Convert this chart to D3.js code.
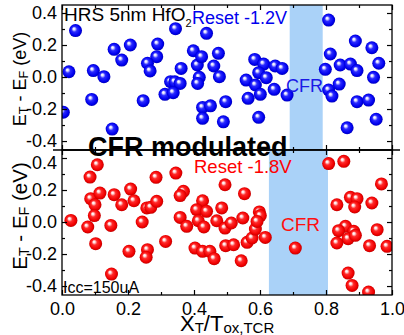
<!DOCTYPE html>
<html>
<head>
<meta charset="utf-8">
<script src="https://cdn.jsdelivr.net/npm/d3@7"></script>
<style>
  html, body { margin: 0; padding: 0; background: #fff; }
  svg { display: block; font-family: "Liberation Sans", Arial, sans-serif; }
</style>
</head>
<body>
<svg id="chart" width="404" height="335"></svg>
<script>
// values
const xTicks = [0, 0.2, 0.4, 0.6, 0.8, 1.0];
const xMinor = [0.1, 0.3, 0.5, 0.7, 0.9];
const yTicks = [-0.4, -0.2, 0, 0.2, 0.4];
const yMinor = [-0.3, -0.1, 0.1, 0.3];

const cfrBandTop = [0.69, 0.79];
const cfrBandBottom = [0.627, 0.806];

// Reset -1.2V (blue), [x, E_T - E_F]
const resetBlue = [
  [0.041, 0.29], [0.021, 0.033], [0.004, -0.22], [0.095, 0.04], [0.127, 0.002],
  [0.09, -0.14], [0.158, 0.173], [0.181, 0.106], [0.207, 0.2], [0.152, -0.325],
  [0.246, -0.148], [0.29, 0.206], [0.287, 0.127], [0.259, 0.086], [0.267, 0.038],
  [0.344, 0.302], [0.361, 0.054], [0.329, -0.029], [0.342, -0.03], [0.358, -0.04],
  [0.312, -0.108], [0.337, -0.098], [0.398, 0.164], [0.41, 0.075], [0.423, 0.127],
  [0.416, -0.002], [0.411, -0.04], [0.438, 0.273], [0.474, 0.148], [0.46, 0.069],
  [0.477, 0.002], [0.426, -0.19], [0.45, -0.18], [0.426, -0.258], [0.489, -0.28],
  [0.496, -0.154], [0.584, 0.11], [0.611, 0.081], [0.646, 0.069], [0.667, 0.054],
  [0.596, 0.027], [0.619, -0.004], [0.558, -0.019], [0.586, -0.05], [0.601, -0.108],
  [0.564, -0.133], [0.643, -0.077], [0.682, -0.113], [0.596, -0.252], [0.808, 0.356],
  [0.813, 0.144], [0.798, 0.048], [0.808, -0.081], [0.818, -0.119], [0.84, -0.044],
  [0.843, 0.075], [0.874, 0.081], [0.894, 0.04], [0.889, 0.225], [0.939, 0.183],
  [0.96, 0.086], [0.944, -0.002], [0.894, -0.154], [0.929, -0.144], [0.952, -0.264],
  [0.864, -0.317]
];

// Reset -1.8V (red), [x, E_T - E_F]
const resetRed = [
  [0.027, 0.01], [0.078, -0.031], [0.085, 0.281], [0.107, 0.358], [0.087, 0.146],
  [0.1, 0.108], [0.115, 0.181], [0.098, 0.04], [0.102, -0.135], [0.148, -0.021],
  [0.158, 0.171], [0.181, 0.108], [0.208, 0.206], [0.218, 0.133], [0.15, -0.325],
  [0.203, -0.183], [0.243, 0.0], [0.257, 0.088], [0.269, 0.092], [0.287, 0.129],
  [0.285, 0.279], [0.259, -0.173], [0.255, -0.22], [0.314, -0.121], [0.345, 0.306],
  [0.368, 0.192], [0.358, 0.165], [0.358, 0.029], [0.378, -0.027], [0.426, 0.133],
  [0.408, 0.077], [0.438, 0.067], [0.413, 0.008], [0.43, -0.031], [0.484, 0.088],
  [0.469, 0.008], [0.494, -0.038], [0.494, 0.233], [0.403, -0.163], [0.426, -0.183],
  [0.448, -0.183], [0.461, -0.229], [0.496, -0.148], [0.553, 0.177], [0.513, -0.006],
  [0.548, 0.025], [0.52, -0.142], [0.543, -0.242], [0.561, -0.127], [0.576, -0.1],
  [0.586, -0.044], [0.598, 0.063], [0.601, 0.04], [0.591, 0.004], [0.616, -0.096],
  [0.707, -0.163], [0.808, 0.365], [0.854, 0.379], [0.833, 0.108], [0.874, 0.154],
  [0.894, 0.146], [0.887, 0.094], [0.939, 0.119], [0.968, 0.238], [0.859, -0.027],
  [0.838, -0.054], [0.884, -0.058], [0.867, -0.104], [0.833, -0.131], [0.889, -0.083],
  [0.955, -0.048], [0.932, -0.148], [0.985, -0.152], [0.867, -0.319], [0.879, -0.396],
  [0.929, -0.438]
];

const svg = d3.select('#chart');
const left = 62, right = 392;
const yDomain = [-0.456, 0.45];

const x = d3.scaleLinear().domain([0, 1]).range([left, right]);
const yTop = d3.scaleLinear().domain(yDomain).range([150, 5]);
const yBot = d3.scaleLinear().domain(yDomain).range([295, 150]);

// sphere gradients
const defs = svg.append('defs');
function sphere(id, stops) {
  const g = defs.append('radialGradient')
    .attr('id', id)
    .attr('cx', 0.5).attr('cy', 0.5).attr('r', 0.55)
    .attr('fx', 0.36).attr('fy', 0.34);
  stops.forEach(s => g.append('stop').attr('offset', s[0]).attr('stop-color', s[1]));
}
sphere('ballBlue', [[0, '#ffffff'], [0.14, '#e6e6ff'], [0.38, '#2a2aff'], [0.75, '#0000ee'], [1, '#0000a8']]);
sphere('ballRed', [[0, '#ffffff'], [0.14, '#ffe6e6'], [0.38, '#ff2a2a'], [0.75, '#f00000'], [1, '#b00000']]);

function drawPanel(y, band, data, fill, clipId, showX) {
  const top = y.range()[1], bottom = y.range()[0];

  defs.append('clipPath').attr('id', clipId)
    .append('rect')
    .attr('x', left).attr('y', top)
    .attr('width', right - left).attr('height', bottom - top);

  svg.append('rect')
    .attr('x', x(band[0])).attr('y', top)
    .attr('width', x(band[1]) - x(band[0]))
    .attr('height', bottom - top)
    .attr('fill', '#aad2f8');

  svg.append('g')
    .attr('clip-path', `url(#${clipId})`)
    .selectAll('circle')
    .data(data)
    .enter()
    .append('circle')
    .attr('cx', d => x(d[0]))
    .attr('cy', d => y(d[1]))
    .attr('r', 6.5)
    .attr('fill', fill);

  // ticks on all four sides, pointing inward
  const sides = [
    [d3.axisLeft(y), `translate(${left},0)`, yTicks, yMinor],
    [d3.axisRight(y), `translate(${right},0)`, yTicks, yMinor],
    [d3.axisTop(x), `translate(0,${top})`, xTicks, xMinor],
    [d3.axisBottom(x), `translate(0,${bottom})`, xTicks, xMinor]
  ];
  sides.forEach(([axis, tr, major, minor], i) => {
    const labelled = i === 0 || (i === 3 && showX);
    const gMaj = svg.append('g')
      .attr('transform', tr)
      .call(axis.tickValues(major).tickSizeInner(-5).tickSizeOuter(0)
        .tickPadding(i === 0 ? 5 : 7)
        .tickFormat(labelled ? (v => v.toFixed(1)) : ''));
    gMaj.select('.domain').remove();
    gMaj.selectAll('line').attr('stroke', '#000').attr('stroke-width', 1.2);
    gMaj.selectAll('text')
      .attr('fill', '#000')
      .style('font-size', '18px');
    // lower panel's top label sits a little below its tick, clear of the panel above
    if (i === 0 && showX) {
      gMaj.selectAll('text').filter(v => v === 0.4).attr('dy', '0.6em');
    }

    const gMin = svg.append('g')
      .attr('transform', tr)
      .call(axis.tickValues(minor).tickSizeInner(-3).tickFormat(''));
    gMin.select('.domain').remove();
    gMin.selectAll('line').attr('stroke', '#000').attr('stroke-width', 1.2);
  });

  svg.append('rect')
    .attr('x', left).attr('y', top)
    .attr('width', right - left).attr('height', bottom - top)
    .attr('fill', 'none')
    .attr('stroke', '#000')
    .attr('stroke-width', 1.3);
}

drawPanel(yTop, cfrBandTop, resetBlue, 'url(#ballBlue)', 'clipTop', false);
drawPanel(yBot, cfrBandBottom, resetRed, 'url(#ballRed)', 'clipBot', true);

// divider between the panels
svg.append('line')
  .attr('x1', 53).attr('x2', 400)
  .attr('y1', 150).attr('y2', 150)
  .attr('stroke', '#000').attr('stroke-width', 1.3);

// annotations
const hrs = svg.append('text')
  .attr('x', 64).attr('y', 21)
  .style('font-size', '19px').attr('fill', '#000');
hrs.append('tspan').text('HRS 5nm HfO');
hrs.append('tspan').attr('dy', 6).style('font-size', '11px').text('2');

svg.append('text')
  .attr('x', 192).attr('y', 24)
  .style('font-size', '18px').attr('fill', '#0000ee')
  .text('Reset -1.2V');

svg.append('text')
  .attr('x', 286).attr('y', 92)
  .style('font-size', '18px').attr('fill', '#1a1ae6')
  .text('CFR');

svg.append('text')
  .attr('x', 194).attr('y', 173)
  .style('font-size', '18.5px').attr('fill', '#ff0000')
  .text('Reset -1.8V');

svg.append('text')
  .attr('x', 281).attr('y', 231)
  .style('font-size', '19px').attr('fill', '#ff1010')
  .text('CFR');

svg.append('text')
  .attr('x', 88).attr('y', 156)
  .style('font-size', '27px').style('font-weight', 'bold').attr('fill', '#000')
  .text('CFR modulated');

svg.append('text')
  .attr('x', 63).attr('y', 293)
  .style('font-size', '16px').attr('fill', '#000')
  .text('Icc=150uA');

// y axis titles
function yTitle(cx, cy, size) {
  const t = svg.append('text')
    .attr('transform', `translate(${cx},${cy}) rotate(-90)`)
    .attr('text-anchor', 'middle')
    .style('font-size', size + 'px').attr('fill', '#000');
  t.append('tspan').text('E');
  t.append('tspan').attr('dy', 2).style('font-size', '0.7em').text('T');
  t.append('tspan').attr('dy', -2).text(' - E');
  t.append('tspan').attr('dy', 2).style('font-size', '0.7em').text('F');
  t.append('tspan').attr('dy', -2).text(' (eV)');
}
yTitle(26, 79, 18);
yTitle(27, 216, 20.5);

// x axis title
const xt = svg.append('text')
  .attr('x', 180).attr('y', 331)
  .style('font-size', '22px').attr('fill', '#000');
xt.append('tspan').text('X');
xt.append('tspan').attr('dy', 1.5).style('font-size', '15px').text('T');
xt.append('tspan').attr('dy', -1.5).text('/T');
xt.append('tspan').attr('dy', 1.5).style('font-size', '15px').text('ox,TCR');
</script>
</body>
</html>
